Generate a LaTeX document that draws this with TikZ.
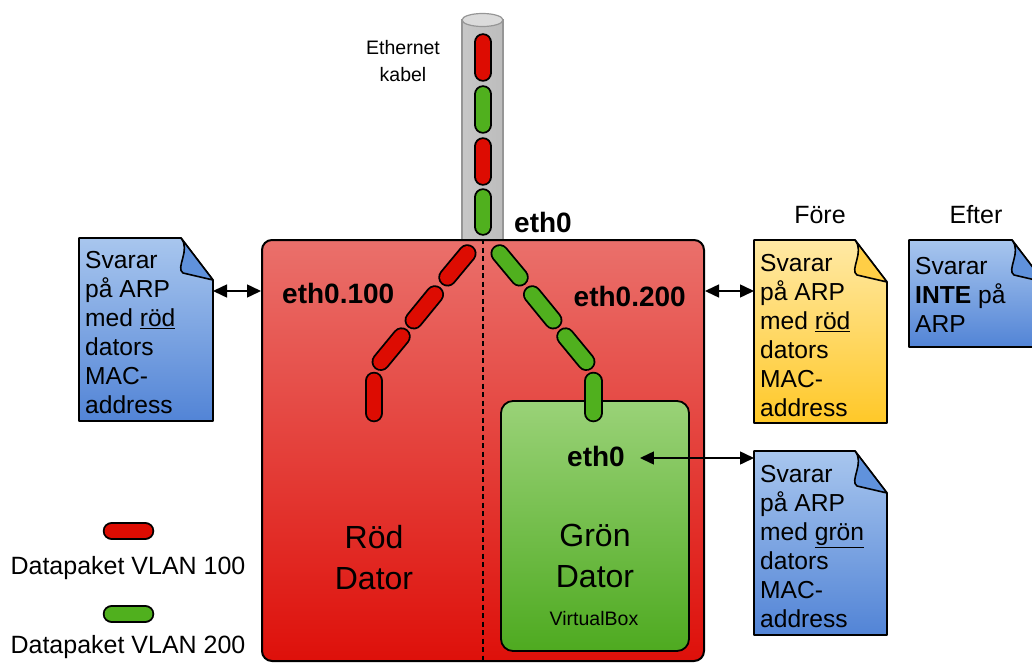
\documentclass[tikz,border=0pt]{standalone}
\usepackage{fontspec}
\setmainfont{Liberation Sans}
\usetikzlibrary{arrows.meta}

\definecolor{pktred}{RGB}{221,12,2}
\definecolor{pktgreen}{RGB}{80,176,30}
\definecolor{redtop}{RGB}{234,112,107}
\definecolor{redbot}{RGB}{222,16,10}
\definecolor{greentop}{RGB}{154,210,120}
\definecolor{greenbot}{RGB}{78,170,32}
\definecolor{bluetop}{RGB}{168,198,238}
\definecolor{bluebot}{RGB}{82,132,214}
\definecolor{bluefold}{RGB}{96,146,220}
\definecolor{yeltop}{RGB}{255,233,165}
\definecolor{yelbot}{RGB}{255,200,40}
\definecolor{yelfold}{RGB}{255,206,70}
\definecolor{cableedge}{RGB}{150,150,150}

% one data packet: a capsule between two centre points
\newcommand{\packet}[3]{%
  \draw[line width=18.5pt, line cap=round] #2 -- #3;
  \draw[line width=14.8pt, line cap=round, draw=#1] #2 -- #3;}

% a sheet of paper with a folded top-right corner
\newcommand{\notepage}[7]{%
  \draw[notebody, top color=#5, bottom color=#6]
    (#1,#2) -- ({#3-32},#2) -- (#3,{#2+42}) -- (#3,#4) -- (#1,#4) -- cycle;
  \draw[notebody, fill=#7]
    ({#3-32},#2) .. controls ({#3-22},{#2+12}) and ({#3-38},{#2+30}) .. ({#3-30},{#2+35})
    -- (#3,{#2+42}) -- cycle;}

\begin{document}
\begin{tikzpicture}[x=1pt, y=-1pt,
  notebody/.style={line width=1.6pt, draw=black, line join=round},
  notetxt/.style={anchor=north west, inner sep=0pt, align=left,
    font=\fontsize{24.6}{29}\selectfont},
  ethlbl/.style={inner sep=0pt, font=\fontsize{28}{32}\selectfont\bfseries},
  plain/.style={inner sep=0pt, align=center, font=\fontsize{25}{29}\selectfont},
  small/.style={inner sep=0pt, align=center, font=\fontsize{19.5}{27}\selectfont},
  bigname/.style={inner sep=0pt, align=center, font=\fontsize{32}{41}\selectfont},
  biarrow/.style={line width=1.5pt,
    {Triangle[length=14pt,width=13pt]}-{Triangle[length=14pt,width=13pt]}}]

\useasboundingbox (0,0) rectangle (1032,663);
\clip (0,0) rectangle (1032,663);

% Ethernet cable
\draw[line width=1.2pt, draw=cableedge, left color=black!22, middle color=black!5,
  right color=black!26] (462,20) rectangle (503,240);
\draw[line width=1.2pt, draw=cableedge, fill=black!14] (482.5,20) ellipse [x radius=20.5, y radius=6.5];
\node[small] (kabel) at (403,61) {Ethernet\\kabel};

\packet{pktred}{(483,42.5)}{(483,72.5)}
\packet{pktgreen}{(483,94.5)}{(483,124.5)}
\packet{pktred}{(483,146.5)}{(483,176.5)}
\packet{pktgreen}{(483,197.5)}{(483,226.5)}

\node[ethlbl, anchor=west] (eth0top) at (514,222) {eth0};

% the red host
\node[draw=black, line width=2pt, rounded corners=10pt, top color=redtop, bottom color=redbot,
  minimum width=442pt, minimum height=421pt] (rod) at (483,450.5) {};
\draw[line width=1.6pt, dash pattern=on 5pt off 3.5pt] (rod.north) -- (rod.south);

\node[ethlbl, anchor=west] (e100) at (282,293) {eth0.100};
\node[ethlbl, anchor=east] (e200) at (686,296) {eth0.200};
\node[bigname] (rodname) at (374,558) {Röd\\Dator};

% VLAN 100 branch
\packet{pktred}{(467.3,253.5)}{(447.5,277.3)}
\packet{pktred}{(434.8,294.5)}{(413.8,320.2)}
\packet{pktred}{(401.5,336.6)}{(380.8,361.7)}
\packet{pktred}{(374,381)}{(374,413)}

% VLAN 200 branch
\packet{pktgreen}{(499.7,253.5)}{(519.5,277.3)}
\packet{pktgreen}{(532.2,294.5)}{(553.2,320.2)}
\packet{pktgreen}{(565.5,336.6)}{(586.2,361.7)}

% the green guest
\node[draw=black, line width=1.8pt, rounded corners=12pt, top color=greentop, bottom color=greenbot,
  minimum width=188pt, minimum height=250pt] (gron) at (595,526) {};
\packet{pktgreen}{(593.3,381)}{(593.3,413)}
\node[ethlbl] (ethgron) at (596,456) {eth0};
\node[bigname] (gronname) at (595,556) {Grön\\Dator};
\node[small] (vbox) at (594,619) {VirtualBox};

% notes
\notepage{79}{238}{213}{421}{bluetop}{bluebot}{bluefold}
\node[notetxt] (notel) at (85,251) {Svarar\\på ARP\\med \underline{röd}\\dators\\MAC-\\address};

\notepage{754}{240}{887}{423}{yeltop}{yelbot}{yelfold}
\node[notetxt] (notefore) at (760,254) {Svarar\\på ARP\\med \underline{röd}\\dators\\MAC-\\address};

\notepage{909}{240}{1044}{347}{bluetop}{bluebot}{bluefold}
\node[notetxt] (noteefter) at (915,257) {Svarar\\\textbf{INTE} på\\ARP};

\notepage{754}{451}{887}{635}{bluetop}{bluebot}{bluefold}
\node[notetxt] (notegron) at (760,465) {Svarar\\på ARP\\med \underline{grön}\\dators\\MAC-\\address};

\node[plain] (fore) at (820,215) {Före};
\node[plain] (efter) at (976,215) {Efter};

% connectors
\coordinate (lnoteR) at (213,291);
\coordinate (ynoteL) at (754,291);
\coordinate (gnoteL) at (754,458);
\coordinate (gtip) at ([xshift=15pt,yshift=-2pt]ethgron.east);
\draw[biarrow] (lnoteR) -- (rod.west |- lnoteR);
\draw[biarrow] (rod.east |- ynoteL) -- (ynoteL);
\draw[biarrow] (gtip) -- (gnoteL |- gtip);

% legend
\packet{pktred}{(112,531)}{(145,531)}
\node[plain] (leg100) at (128,568) {Datapaket VLAN 100};
\packet{pktgreen}{(112,614)}{(145,614)}
\node[plain] (leg200) at (128,647) {Datapaket VLAN 200};

\end{tikzpicture}
\end{document}
